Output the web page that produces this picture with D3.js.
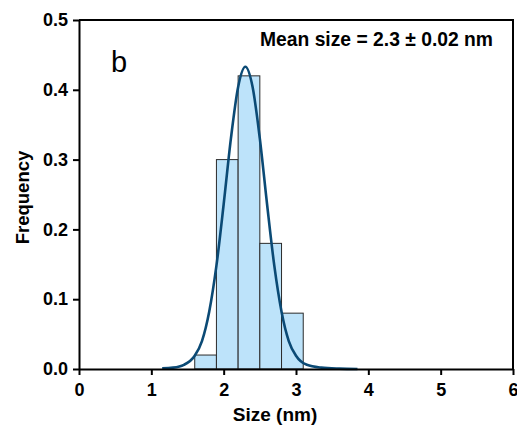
<!DOCTYPE html>
<html>
<head>
<meta charset="utf-8">
<script src="https://cdn.jsdelivr.net/npm/d3@7"></script>
<style>
  html, body { margin: 0; padding: 0; background: #fff; }
  svg { display: block; font-family: "Liberation Sans", Arial, Helvetica, sans-serif; }
</style>
</head>
<body>
<svg id="chart" width="517" height="427"></svg>
<script>
// Histogram bins (left edge, right edge) and frequencies
const binStart = [1.6, 1.9, 2.2, 2.5, 2.8];
const binEnd   = [1.9, 2.2, 2.5, 2.8, 3.1];
const frequency = [0.02, 0.30, 0.42, 0.18, 0.08];

// Fitted distribution curve, sampled points
const fitX = [1.15, 1.3, 1.45, 1.6, 1.7, 1.8, 1.9, 2.0, 2.1, 2.2, 2.3, 2.4, 2.5, 2.6, 2.7, 2.8, 2.9, 3.0, 3.15, 3.35, 3.6, 3.85];
const fitY = [0.001, 0.002, 0.006, 0.019, 0.040, 0.082, 0.148, 0.236, 0.330, 0.404, 0.433, 0.404, 0.330, 0.236, 0.148, 0.082, 0.040, 0.019, 0.006, 0.002, 0.0005, 0.0];

// Axis ticks
const xTicks = [0, 1, 2, 3, 4, 5, 6];
const yTicks = [0.0, 0.1, 0.2, 0.3, 0.4, 0.5];

const xTitle = "Size (nm)";
const yTitle = "Frequency";
const panelLabel = "b";
const meanLabel = "Mean size = 2.3 ± 0.02 nm";

const W = 517, H = 427;
const margin = { top: 20, right: 4, bottom: 58, left: 79 };
const svg = d3.select("#chart");

const x = d3.scaleLinear().domain([0, 6]).range([margin.left, W - margin.right]);
const y = d3.scaleLinear().domain([0, 0.5]).range([H - margin.bottom, margin.top]);

// Bars
const bins = binStart.map((s, i) => ({ s, e: binEnd[i], f: frequency[i] }));
svg.append("g")
  .selectAll("rect")
  .data(bins)
  .join("rect")
  .attr("x", d => x(d.s))
  .attr("y", d => y(d.f))
  .attr("width", d => x(d.e) - x(d.s))
  .attr("height", d => y(0) - y(d.f))
  .attr("fill", "#bde3fa")
  .attr("stroke", "#2b2b2b")
  .attr("stroke-width", 1);

// Fit curve
const pts = fitX.map((v, i) => [v, fitY[i]]);
svg.append("path")
  .datum(pts)
  .attr("fill", "none")
  .attr("stroke", "#0b4a75")
  .attr("stroke-width", 2.6)
  .attr("d", d3.line().x(d => x(d[0])).y(d => y(d[1])).curve(d3.curveMonotoneX));

// Frame (top and right)
svg.append("path")
  .attr("d", `M${x(0)},${y(0.5)}H${x(6)}V${y(0)}`)
  .attr("fill", "none")
  .attr("stroke", "#000")
  .attr("stroke-width", 2);

// Axes
const xAxis = svg.append("g")
  .attr("transform", `translate(0,${y(0)})`)
  .call(d3.axisBottom(x).tickValues(xTicks).tickFormat(d3.format("d")).tickSize(6).tickPadding(8).tickSizeOuter(0));
const yAxis = svg.append("g")
  .attr("transform", `translate(${x(0)},0)`)
  .call(d3.axisLeft(y).tickValues(yTicks).tickFormat(d3.format(".1f")).tickSize(6).tickPadding(5).tickSizeOuter(0));

[xAxis, yAxis].forEach(g => {
  g.select(".domain").attr("stroke", "#000").attr("stroke-width", 2);
  g.selectAll(".tick line").attr("stroke", "#000").attr("stroke-width", 2);
  g.selectAll(".tick text")
    .attr("fill", "#000")
    .style("font-size", "18px")
    .style("font-weight", "bold")
    .style("font-family", "'Liberation Sans', Arial, sans-serif");
});

// Axis titles
svg.append("text")
  .attr("x", 275)
  .attr("y", 421)
  .attr("text-anchor", "middle")
  .style("font-size", "19px")
  .style("font-weight", "bold")
  .text(xTitle);

svg.append("text")
  .attr("transform", `translate(29,${(y(0) + y(0.5)) / 2 + 3}) rotate(-90)`)
  .attr("text-anchor", "middle")
  .style("font-size", "18.5px")
  .style("font-weight", "bold")
  .text(yTitle);

// Panel label and annotation
svg.append("text")
  .attr("x", 111)
  .attr("y", 72)
  .style("font-size", "29px")
  .text(panelLabel);

svg.append("text")
  .attr("x", 260)
  .attr("y", 46)
  .style("font-size", "19.3px")
  .style("font-weight", "bold")
  .text(meanLabel);
</script>
</body>
</html>
